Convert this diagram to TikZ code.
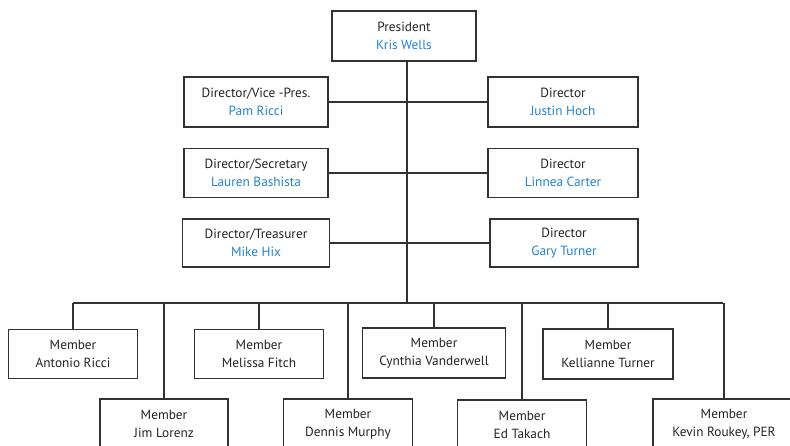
\documentclass[tikz,border=0pt]{standalone}
\usepackage{fontspec}
\setmainfont{PT Sans}
\definecolor{nameblue}{RGB}{36,130,205}
\definecolor{linegray}{RGB}{50,50,50}
\definecolor{txtgray}{RGB}{35,35,35}
\begin{document}
\begin{tikzpicture}[x=1pt,y=-1pt,
  box/.style={draw=linegray,line width=1.5pt,rectangle,inner sep=0pt,align=center,
    font=\fontsize{13.3}{18}\selectfont,text=txtgray},
  link/.style={draw=linegray,line width=1.5pt}]
\useasboundingbox (0,0) rectangle (790,446);
\clip (0,0) rectangle (790,446);
\fill[white] (0,0) rectangle (790,446);
% President
\node[box,minimum width=144pt,minimum height=50pt] (pres) at (404,36) {President\\\textcolor{nameblue}{Kris Wells}};
% Directors left
\node[box,minimum width=144pt,minimum height=50pt] (pam) at (256,102) {Director/Vice -Pres.\\\textcolor{nameblue}{Pam Ricci}};
\node[box,minimum width=144pt,minimum height=49pt] (lauren) at (256,173) {Director/Secretary\\\textcolor{nameblue}{Lauren Bashista}};
\node[box,minimum width=147pt,minimum height=48pt] (mike) at (256,243) {Director/Treasurer\\\textcolor{nameblue}{Mike Hix}};
% Directors right
\node[box,minimum width=150pt,minimum height=50pt] (justin) at (563,102) {Director\\\textcolor{nameblue}{Justin Hoch}};
\node[box,minimum width=150pt,minimum height=49pt] (linnea) at (563,173) {Director\\\textcolor{nameblue}{Linnea Carter}};
\node[box,minimum width=148pt,minimum height=48pt] (gary) at (564,243) {Director\\\textcolor{nameblue}{Gary Turner}};
% trunk
\coordinate (trunkB) at (407,303);
\coordinate (busL) at (73,303);
\coordinate (busR) at (723,303);
\draw[link] (pres.south -| trunkB) -- (trunkB);
\draw[link] (pam.east) -- (pam.east -| justin.west);
\draw[link] (lauren.east) -- (lauren.east -| linnea.west);
\draw[link] (mike.east) -- (mike.east -| gary.west);
\draw[link] (busL) -- (busR);
% Members upper row
\node[box,minimum width=129pt,minimum height=49pt] (antonio) at (73,354) {Member\\Antonio Ricci};
\node[box,minimum width=129pt,minimum height=49pt] (melissa) at (259,354) {Member\\Melissa Fitch};
\node[box,minimum width=143pt,minimum height=50pt] (cynthia) at (434,353) {Member\\Cynthia Vanderwell};
\node[box,minimum width=130pt,minimum height=50pt] (kellianne) at (608,354) {Member\\Kellianne Turner};
% Members lower row
\node[box,minimum width=128pt,minimum height=50pt] (jim) at (164,424) {Member\\Jim Lorenz};
\node[box,minimum width=129pt,minimum height=50pt] (dennis) at (348,424) {Member\\Dennis Murphy};
\node[box,minimum width=129pt,minimum height=50pt] (ed) at (522,425) {Member\\Ed Takach};
\node[box,minimum width=142pt,minimum height=50pt] (kevin) at (724,424) {Member\\Kevin Roukey, PER};
% drops
\foreach \m in {antonio,melissa,cynthia,kellianne,jim,dennis,ed,kevin}
  \draw[link] (\m.north) -- (\m.north |- busL);
\end{tikzpicture}
\end{document}
